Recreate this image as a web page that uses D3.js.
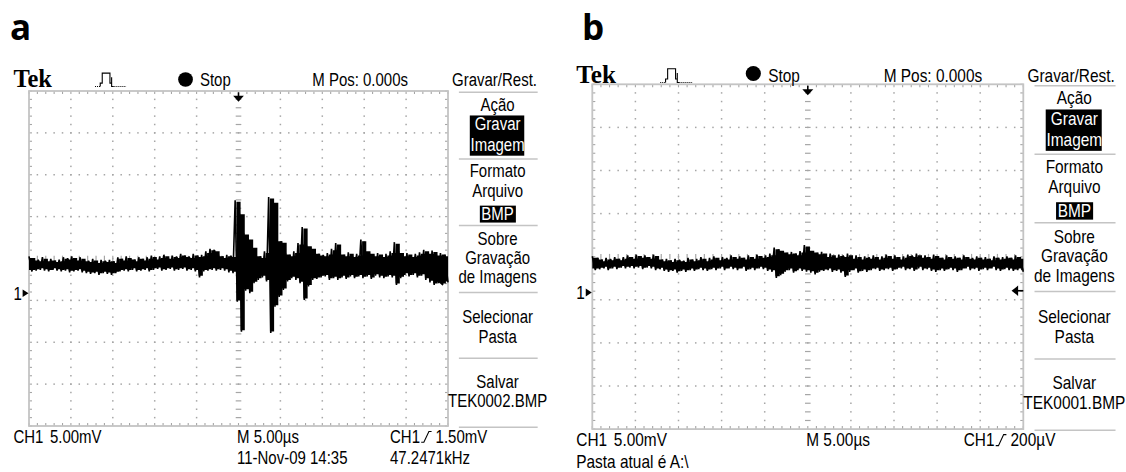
<!DOCTYPE html>
<html>
<head>
<meta charset="utf-8">
<script src="https://cdn.jsdelivr.net/npm/d3@7"></script>
<style>
  body { margin: 0; background: #fff; }
  svg text { font-family: "Liberation Sans", Arial, sans-serif; fill: #000; }
</style>
</head>
<body>
<svg id="chart" width="1126" height="472"></svg>
<script>
// ---- scope settings ----
const mvPerDiv = 5;          // CH1 5.00mV
const usPerDiv = 5;          // M 5.00us
const groundDiv = -0.83;     // "1>" marker position, divisions from centre
const colsPerDiv = 10;       // trace read as min/max per 0.1 division
const trigLevelMv = [1.5, 0.2];
const trigLabels = ['1.50mV', '200\u00b5V'];
const fileNames = ['TEK0002.BMP', 'TEK0001.BMP'];
const panelLetters = ['a', 'b'];

// trace envelope (mV), one value per 0.1 div = 0.5 us, left to right
const hiA = [4.4, 4.1, 4.0, 4.3, 4.0, 4.1, 3.9, 4.0, 4.3, 4.2,
    4.4, 4.1, 4.3, 4.0, 3.9, 4.1, 3.8, 4.0, 3.9, 4.0,
    3.8, 4.3, 4.1, 4.4, 4.2, 4.0, 4.3, 4.1, 4.3, 4.5,
    4.2, 4.4, 4.6, 4.3, 4.5, 4.4, 4.7, 4.5, 4.4, 4.7,
    4.5, 4.6, 5.0, 5.3, 5.2, 4.6, 4.4, 4.6, 4.5, 11.1,
    9.6, 7.2, 6.6, 5.6, 4.6, 4.4, 5.0, 11.5, 11.0, 6.4,
    6.2, 4.8, 4.6, 5.0, 6.0, 7.9, 5.8, 5.5, 4.9, 4.7,
    4.6, 4.8, 5.3, 6.0, 4.8, 4.6, 4.9, 4.5, 4.7, 6.4,
    5.2, 4.9, 4.6, 4.8, 4.5, 4.7, 5.0, 6.1, 5.0, 4.6,
    4.8, 4.5, 4.7, 4.9, 5.2, 4.9, 5.1, 4.7, 4.8, 4.6];
const loA = [2.6, 2.7, 2.8, 2.7, 2.6, 2.8, 2.7, 2.6, 2.7, 2.5,
    2.6, 2.7, 2.5, 2.4, 2.3, 2.4, 2.2, 2.4, 2.3, 2.2,
    2.4, 2.6, 2.7, 2.6, 2.8, 2.6, 2.7, 2.8, 2.6, 2.8,
    2.9, 2.7, 2.8, 2.9, 2.7, 2.8, 2.9, 2.7, 2.8, 2.6,
    1.9, 2.6, 2.7, 2.8, 2.7, 2.8, 2.7, 2.5, 2.4, -1.0,
    -4.6, 0.3, 0.0, 1.2, 1.6, 1.9, 1.4, -4.75, -1.6, -0.45,
    0.4, 1.4, 1.8, 1.6, 1.2, -0.8, 0.8, 1.6, 1.7, 1.9,
    2.0, 1.6, 1.8, 1.6, 1.9, 1.7, 2.0, 1.8, 2.0, 1.8,
    2.0, 1.7, 2.1, 1.9, 1.8, 2.0, 1.9, 1.0, 1.8, 2.2,
    2.0, 2.2, 1.9, 2.1, 1.6, 1.3, 1.0, 1.2, 1.0, 1.3];
const hiB = [4.2, 4.0, 3.8, 4.0, 3.9, 4.1, 3.9, 4.1, 4.3, 4.1,
    4.4, 4.2, 4.3, 4.1, 4.4, 4.0, 3.8, 3.9, 3.7, 3.9,
    3.8, 3.7, 4.0, 3.8, 3.9, 4.1, 3.8, 4.0, 4.2, 3.9,
    4.1, 4.0, 4.3, 4.1, 4.2, 4.0, 4.3, 4.1, 4.4, 4.2,
    4.3, 4.5, 5.2, 5.0, 4.8, 4.6, 4.7, 4.5, 4.8, 5.5,
    5.0, 4.8, 4.6, 4.7, 4.3, 4.5, 4.2, 4.4, 4.3, 4.5,
    4.1, 4.3, 4.0, 4.2, 4.1, 4.3, 4.0, 4.2, 4.4, 4.1,
    4.3, 4.0, 4.2, 4.4, 4.3, 4.5, 4.2, 4.3, 4.1, 4.4,
    4.2, 4.0, 4.3, 4.1, 4.2, 4.0, 4.3, 4.1, 4.0, 4.2,
    4.0, 4.1, 3.9, 4.2, 4.0, 4.1, 4.2, 4.0, 4.3, 4.1];
const loB = [2.6, 2.7, 2.8, 2.6, 2.8, 2.7, 2.9, 2.8, 2.9, 2.8,
    2.9, 2.7, 2.9, 2.8, 2.6, 2.7, 2.5, 2.4, 2.5, 2.3,
    2.5, 2.4, 2.6, 2.5, 2.7, 2.6, 2.5, 2.7, 2.6, 2.8,
    2.6, 2.8, 2.7, 2.6, 2.8, 2.5, 2.7, 2.6, 2.8, 2.7,
    2.5, 2.4, 1.7, 2.0, 2.4, 2.6, 2.3, 2.6, 2.5, 2.4,
    2.3, 2.1, 2.4, 2.5, 2.6, 2.4, 2.5, 2.3, 1.8, 2.4,
    2.6, 2.3, 2.5, 2.4, 2.6, 2.7, 2.5, 2.6, 2.7, 2.5,
    2.7, 2.8, 2.6, 2.7, 2.5, 2.8, 2.6, 2.7, 2.5, 2.4,
    2.6, 2.5, 2.7, 2.6, 2.4, 2.6, 2.8, 2.6, 2.7, 2.5,
    2.7, 2.6, 2.8, 2.6, 2.5, 2.7, 2.6, 2.5, 2.6, 2.4];

// menu on the right (text only)
const menuTitle = 'Gravar/Rest.';
const menuLines = ['A\u00e7\u00e3o', 'Gravar', 'Imagem', 'Formato', 'Arquivo', 'BMP',
    'Sobre', 'Grava\u00e7\u00e3o', 'de Imagens', 'Selecionar', 'Pasta', 'Salvar'];
const menuInverted = ['Gravar', 'Imagem', 'BMP'];

const svg = d3.select('#chart');

// graticule placement of each screenshot
const panels = [
    { gx: 29, gy: 91, gw: 419, gh: 335, lx: 10, headY: 85.5, dotY: 79.5, hi: hiA, lo: loA },
    { gx: 592.3, gy: 84.3, gw: 431, gh: 344.8, lx: 582, headY: 81.5, dotY: 73.5, hi: hiB, lo: loB }
];

function drawScope(p, k) {
    const s = p.gw / 250;                    // one Tek screen pixel
    const U = u => p.gx + u * s;
    const V = v => p.gy + v * s;
    const fs = 10.4 * s;
    const g = svg.append('g');

    function txt(X, Y, str, anchor) {
        return g.append('text')
            .attr('transform', 'translate(' + X + ',' + Y + ') scale(0.86,1)')
            .attr('text-anchor', anchor || 'start')
            .style('font-size', fs + 'px')
            .text(str);
    }

    const half = 5 * usPerDiv;
    const mid = -groundDiv * mvPerDiv;
    const x = d3.scaleLinear().domain([-half, half]).range([p.gx, p.gx + p.gw]);
    const y = d3.scaleLinear().domain([mid - 4 * mvPerDiv, mid + 4 * mvPerDiv]).range([p.gy + p.gh, p.gy]);

    // panel letter
    g.append('text')
        .attr('x', p.lx).attr('y', 40)
        .style('font-family', '"Open Sans", sans-serif')
        .style('font-weight', 700)
        .style('font-size', '35px')
        .text(panelLetters[k]);

    // graticule
    const grid = g.append('g').attr('fill', '#a6a6a6').attr('stroke', '#a6a6a6');
    const xMajor = d3.range(-half, half + 0.01, usPerDiv);
    const yMajor = d3.range(-4, 4.01, 1).map(d => mid + d * mvPerDiv);
    const xMinor = d3.range(-half, half + 0.01, usPerDiv / 5);
    const yMinor = d3.range(-20, 20.01, 1).map(d => mid + d * mvPerDiv / 5);

    xMajor.slice(1, -1).forEach(xv => {
        if (xv === 0) return;
        yMinor.slice(1, -1).forEach(yv => {
            grid.append('rect').attr('x', x(xv) - 0.75).attr('y', y(yv) - 0.75)
                .attr('width', 1.5).attr('height', 1.5).attr('stroke', 'none');
        });
    });
    yMajor.slice(1, -1).forEach((yv, i) => {
        if (i === 3) return;
        xMinor.slice(1, -1).forEach(xv => {
            grid.append('rect').attr('x', x(xv) - 0.75).attr('y', y(yv) - 0.75)
                .attr('width', 1.5).attr('height', 1.5).attr('stroke', 'none');
        });
    });
    // centre cross ticks
    yMinor.slice(1, -1).forEach(yv => {
        grid.append('line').attr('x1', x(0) - 2.8).attr('x2', x(0) + 2.8)
            .attr('y1', y(yv)).attr('y2', y(yv)).attr('stroke-width', 1.2);
    });
    xMinor.slice(1, -1).forEach(xv => {
        grid.append('line').attr('x1', x(xv)).attr('x2', x(xv))
            .attr('y1', y(mid) - 2.8).attr('y2', y(mid) + 2.8).attr('stroke-width', 1.2);
    });
    // border ticks
    xMinor.forEach(xv => {
        grid.append('line').attr('x1', x(xv)).attr('x2', x(xv))
            .attr('y1', p.gy).attr('y2', p.gy + 3).attr('stroke-width', 1.1);
        grid.append('line').attr('x1', x(xv)).attr('x2', x(xv))
            .attr('y1', p.gy + p.gh - 3).attr('y2', p.gy + p.gh).attr('stroke-width', 1.1);
    });
    yMinor.forEach(yv => {
        grid.append('line').attr('x1', p.gx).attr('x2', p.gx + 3)
            .attr('y1', y(yv)).attr('y2', y(yv)).attr('stroke-width', 1.1);
        grid.append('line').attr('x1', p.gx + p.gw - 3).attr('x2', p.gx + p.gw)
            .attr('y1', y(yv)).attr('y2', y(yv)).attr('stroke-width', 1.1);
    });
    grid.append('rect')
        .attr('x', p.gx).attr('y', p.gy).attr('width', p.gw).attr('height', p.gh)
        .attr('fill', 'none').attr('stroke', '#c4c4c4').attr('stroke-width', 1.8);

    // trace: filled min/max band, with each 0.5 us column swinging max -> min on top
    const step = usPerDiv / colsPerDiv;
    const cols = p.hi.map((h, i) => ({ t: -half + (i + 0.5) * step, hi: h, lo: p.lo[i] }));
    const bandPts = [{ t: -half, hi: cols[0].hi, lo: cols[0].lo }]
        .concat(cols, [{ t: half, hi: cols[cols.length - 1].hi, lo: cols[cols.length - 1].lo }]);
    const band = d3.area()
        .x(d => x(d.t))
        .y0(d => y(d.lo) - 1.5)
        .y1(d => y(d.hi) + 1.5)
        .curve(d3.curveStepAfter);
    g.append('path')
        .datum(bandPts)
        .attr('d', band)
        .attr('fill', '#000');
    const swing = [];
    cols.forEach(c => {
        swing.push([c.t - 0.3 * step, c.hi]);
        swing.push([c.t + 0.2 * step, c.lo]);
    });
    swing[0][0] = -half;
    swing[swing.length - 1][0] = half;
    g.append('path')
        .datum(swing)
        .attr('d', d3.line().x(d => x(d[0])).y(d => y(d[1])))
        .attr('fill', 'none')
        .attr('stroke', '#000')
        .attr('stroke-width', 1.6)
        .attr('stroke-linejoin', 'bevel');

    // trigger position arrow (top)
    const tx = x(0);
    g.append('line').attr('x1', tx).attr('x2', tx).attr('y1', V(0.8)).attr('y2', V(3.5))
        .attr('stroke', '#000').attr('stroke-width', 1.6);
    g.append('path')
        .attr('d', 'M' + (tx - 3.2 * s) + ',' + V(2.9) + 'L' + (tx + 3.2 * s) + ',' + V(2.9) + 'L' + tx + ',' + V(6.4) + 'Z')
        .attr('fill', '#000');

    // trigger level arrow (right)
    const ty = y(trigLevelMv[k]);
    g.append('line').attr('x1', U(246)).attr('x2', U(250)).attr('y1', ty).attr('y2', ty)
        .attr('stroke', '#000').attr('stroke-width', 1.6);
    g.append('path')
        .attr('d', 'M' + U(247) + ',' + (ty - 3 * s) + 'L' + U(247) + ',' + (ty + 3 * s) + 'L' + U(243.2) + ',' + ty + 'Z')
        .attr('fill', '#000');

    // channel ground marker
    const gyv = y(0);
    txt(U(-9.3), gyv + 0.36 * fs, '1');
    g.append('path')
        .attr('d', 'M' + U(-3.8) + ',' + (gyv - 2.3 * s) + 'L' + U(-3.8) + ',' + (gyv + 2.3 * s) + 'L' + U(-0.3) + ',' + gyv + 'Z')
        .attr('fill', '#000');

    // header
    g.append('text')
        .attr('x', U(-9.3)).attr('y', p.headY + 1.5)
        .style('font-family', '"Liberation Serif", serif')
        .style('font-weight', 700)
        .style('font-size', (14.6 * s) + 'px')
        .text('Tek');
    const hy = p.headY + 1;
    const P = (u, dv) => U(u) + ',' + (hy + dv * s);
    g.append('path')
        .attr('d', 'M' + P(39.4, 0) + 'L' + P(42.5, 0) + 'M' + P(50.5, 0) + 'L' + P(57.9, 0))
        .attr('fill', 'none').attr('stroke', '#000').attr('stroke-width', 1.2).attr('stroke-dasharray', '1,1');
    g.append('path')
        .attr('d', 'M' + P(42.5, 0) + 'L' + P(42.5, -2) + 'L' + P(43.7, -2) + 'L' + P(43.7, -8)
            + 'L' + P(48.3, -8) + 'L' + P(48.3, -2) + 'L' + P(49.3, -2) + 'L' + P(49.3, -5.5)
            + 'L' + P(49.3, 0) + 'L' + P(50.5, 0))
        .attr('fill', 'none').attr('stroke', '#000').attr('stroke-width', 1.1);
    g.append('circle').attr('cx', U(93.4)).attr('cy', p.dotY).attr('r', 4.4 * s).attr('fill', '#000');
    txt(U(102), p.headY, 'Stop');
    txt(U(169), p.headY, 'M Pos: 0.000s');
    txt(U(252.4), p.headY, menuTitle);

    // menu column
    const sepV = [0.8, 40.6, 80.3, 120.2, 159.4, 200.6];
    sepV.forEach(v => {
        g.append('line').attr('x1', U(256.5)).attr('x2', U(303.5)).attr('y1', V(v)).attr('y2', V(v))
            .attr('stroke', '#c4c4c4').attr('stroke-width', 1.5);
    });
    const lineV = [11.7, 23.4, 35.8, 51.3, 63.2, 76.9, 92, 103, 114.6, 138.4, 150.3, 177];
    const mx = U(279.6);
    // black boxes behind highlighted entries
    g.append('rect').attr('x', U(263)).attr('y', V(14.6)).attr('width', 32.5 * s).attr('height', 24 * s).attr('fill', '#000');
    g.append('rect').attr('x', U(269)).attr('y', V(68.4)).attr('width', 21.5 * s).attr('height', 10.1 * s).attr('fill', '#000');
    menuLines.forEach((t, i) => {
        const el = txt(mx, V(lineV[i]), t, 'middle');
        if (menuInverted.includes(t)) el.style('fill', '#fff');
    });
    txt(mx, V(188.5), fileNames[k], 'middle');

    // footer
    txt(U(-9.3), V(210), 'CH1');
    txt(U(12.5), V(210), mvPerDiv.toFixed(2) + 'mV');
    txt(U(124.1), V(210), 'M ' + usPerDiv.toFixed(2) + '\u00b5s');
    txt(U(215.4), V(210), 'CH1');
    g.append('path')
        .attr('d', 'M' + U(234) + ',' + V(209.6) + 'L' + U(235.6) + ',' + V(209.6) + 'L' + U(238.6) + ',' + V(203.2) + 'L' + U(240.2) + ',' + V(203.2))
        .attr('fill', 'none').attr('stroke', '#000').attr('stroke-width', 1.1);
    txt(U(242.6), V(210), trigLabels[k]);
    if (k === 0) {
        txt(U(124.1), V(222.5), '11-Nov-09 14:35');
        txt(U(215.4), V(222.5), '47.2471kHz');
    } else {
        txt(U(-9.3), V(222.5), 'Pasta atual \u00e9 A:\\');
    }
}

panels.forEach(drawScope);
</script>
</body>
</html>
